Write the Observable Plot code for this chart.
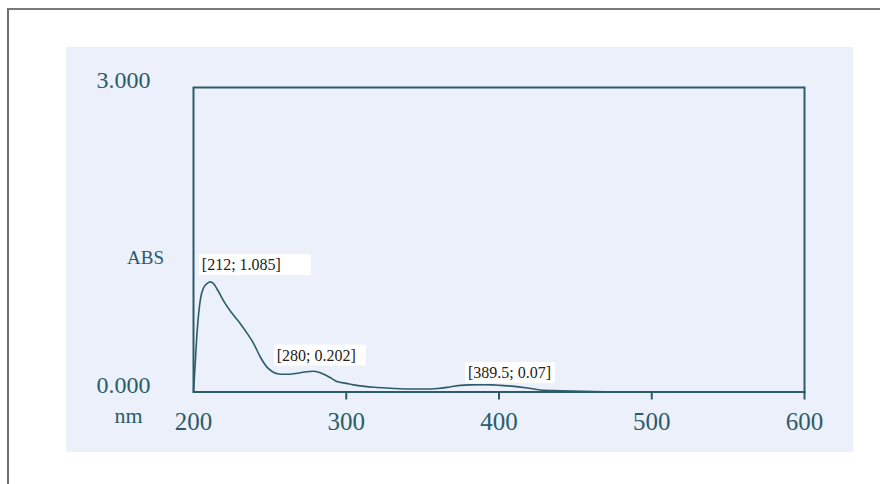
<!DOCTYPE html>
<html>
<head>
<meta charset="utf-8">
<script src="https://cdn.jsdelivr.net/npm/d3@7"></script>
<script src="https://cdn.jsdelivr.net/npm/@observablehq/plot@0.6"></script>
<style>
  html, body { margin: 0; padding: 0; background: #ffffff; }
  #wrap { position: relative; width: 880px; height: 484px; overflow: hidden; }
  #border { position: absolute; left: 7px; top: 8px; width: 900px; height: 500px;
            border-left: 2px solid #6e6e6e; border-top: 2px solid #7a7a7a; }
  #scan { position: absolute; left: 66px; top: 47px; width: 787px; height: 405px; background: #ebf0fb; }
  #chart { position: absolute; left: 0; top: 0; }
</style>
</head>
<body>
<div id="wrap">
  <div id="border"></div>
  <div id="scan"></div>
  <div id="chart"></div>
</div>
<script>
// ---- data ----
const wavelength = [200, 201, 202.4, 204.6, 206.7, 209, 211, 213, 216, 219.6, 225, 230.8, 235, 239.3, 243.9, 248.4, 251.7, 255, 260, 265.5, 270, 274, 278, 280, 283, 286, 289.7, 294.3, 300, 304.7, 312, 320.4, 330.9, 340, 350, 360, 368, 375, 381, 389.5, 396, 401, 410, 418.5, 427, 440, 455, 470, 500, 550, 600];
const absorbance = [0, 0.25, 0.6, 0.92, 1.03, 1.07, 1.085, 1.07, 1.0, 0.9, 0.78, 0.67, 0.58, 0.48, 0.34, 0.24, 0.2, 0.18, 0.175, 0.18, 0.19, 0.2, 0.205, 0.202, 0.19, 0.17, 0.14, 0.1, 0.085, 0.07, 0.055, 0.045, 0.035, 0.03, 0.03, 0.035, 0.05, 0.065, 0.07, 0.072, 0.07, 0.065, 0.055, 0.04, 0.02, 0.012, 0.006, 0.003, 0.002, 0.001, 0.001];
const xTickValues = [200, 300, 400, 500, 600];
const xTickMarks = [300, 400, 500, 600];
const yTickValues = [0, 3];
const peakNm = [212, 280, 389.5];
const peakAbs = [1.085, 0.202, 0.07];
const peakLabels = ["[212; 1.085]", "[280; 0.202]", "[389.5; 0.07]"];
const yTitle = "ABS";
const xTitle = "nm";

// ---- styling / layout ----
const ink = "#2c5c6a";
const axisFont = "Liberation Serif, DejaVu Serif, serif";
const labelOffsets = [[-10, -17], [-39, -16], [-15, -12]];
const boxExtra = [30, 10, 4];

const points = wavelength.map((w, i) => ({w, a: absorbance[i]}));

const annotationMarks = peakLabels.map((lab, i) => Plot.text([i], {
  x: d => peakNm[d], y: d => peakAbs[d], text: d => peakLabels[d],
  dx: labelOffsets[i][0], dy: labelOffsets[i][1],
  textAnchor: "start", lineAnchor: "middle",
  fill: "#222222", fontSize: 16, fontFamily: axisFont
}));

const chart = Plot.plot({
  width: 880, height: 484,
  marginLeft: 193, marginRight: 76, marginTop: 87, marginBottom: 92.5,
  style: {background: "transparent", color: ink, fontFamily: axisFont},
  x: {domain: [200, 600], label: null},
  y: {domain: [0, 3], label: null},
  marks: [
    Plot.axisX({ticks: xTickMarks, tickSize: 8, tickFormat: () => "", stroke: ink, strokeWidth: 2, label: null}),
    Plot.axisX({ticks: xTickValues, tickSize: 0, tickPadding: 20, fontSize: 25, fill: ink, tickFormat: d => String(d), label: null}),
    Plot.axisY({ticks: yTickValues, tickSize: 0, tickPadding: 43, fontSize: 24, fill: ink, dy: -7, tickFormat: d3.format(".3f"), label: null}),
    Plot.text([yTitle], {frameAnchor: "top-left", dx: -48, dy: 163, textAnchor: "middle", fontSize: 19, fill: ink, text: d => d}),
    Plot.text([xTitle], {frameAnchor: "bottom-left", dx: -65, dy: 31, textAnchor: "middle", fontSize: 22, fill: ink, text: d => d}),
    Plot.frame({stroke: ink, strokeWidth: 2}),
    Plot.line(points, {x: "w", y: "a", stroke: ink, strokeWidth: 1.6, curve: "monotone-x"}),
    ...annotationMarks
  ]
});

document.getElementById("chart").appendChild(chart);

// white label boxes behind the annotation texts
chart.querySelectorAll('g[fill="#222222"] text').forEach((t, i) => {
  const bb = t.getBBox();
  const r = document.createElementNS("http://www.w3.org/2000/svg", "rect");
  r.setAttribute("x", bb.x - 3);
  r.setAttribute("y", bb.y - 2);
  r.setAttribute("width", bb.width + 3 + (boxExtra[i] ?? 6));
  r.setAttribute("height", bb.height + 4);
  r.setAttribute("fill", "#ffffff");
  const tr = t.getAttribute("transform");
  if (tr) r.setAttribute("transform", tr);
  t.parentNode.insertBefore(r, t);
});
</script>
</body>
</html>
